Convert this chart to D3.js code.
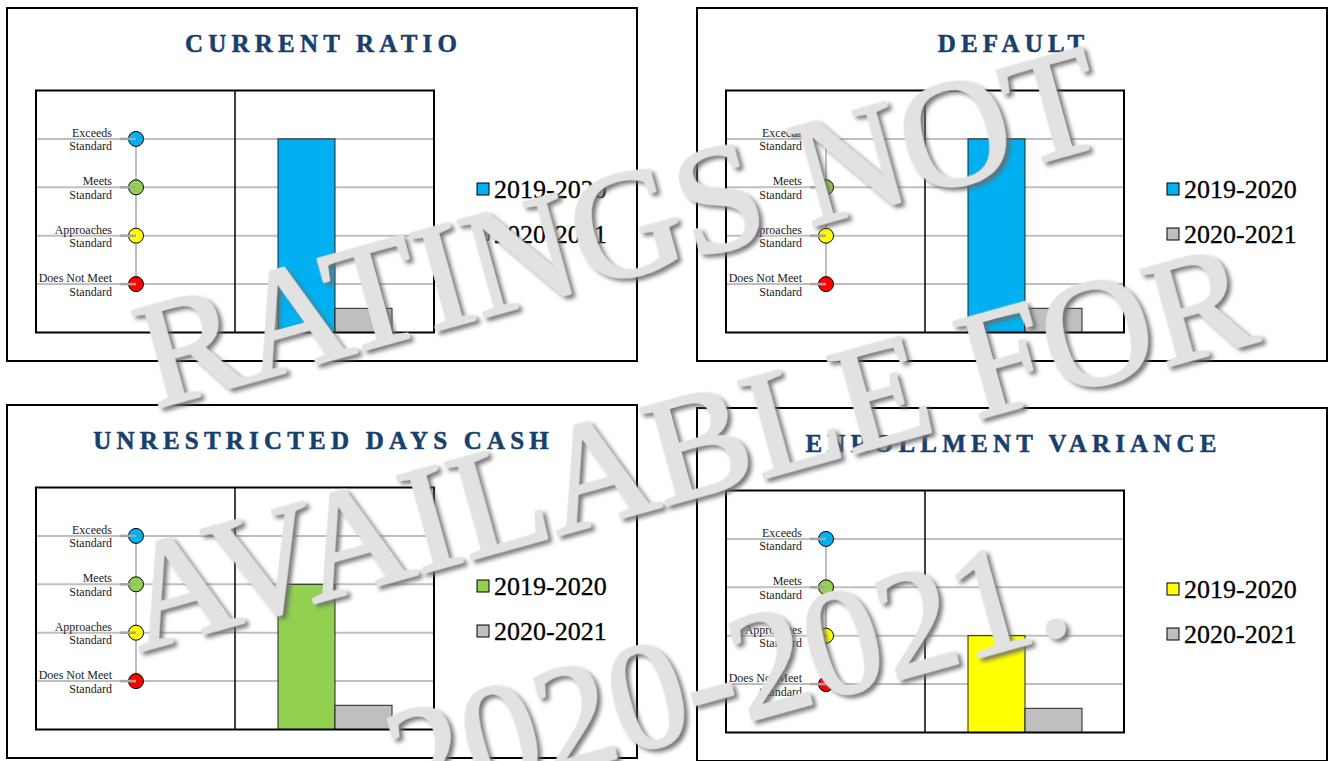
<!DOCTYPE html>
<html><head><meta charset="utf-8">
<script src="https://cdn.jsdelivr.net/npm/d3@7"></script>
<style>body{margin:0;background:#fff;overflow:hidden}</style>
</head><body>
<svg id="c" width="1328" height="761"></svg>
<script>
// ---- data ----
const panelTitles = ["CURRENT RATIO", "DEFAULT", "UNRESTRICTED DAYS CASH", "ENROLLMENT VARIANCE"];
const seriesYears = ["2019-2020", "2020-2021"];
const values1920 = [4, 4, 3, 2];
const values2021 = [0.5, 0.5, 0.5, 0.5];
const ratingValues = [1, 2, 3, 4];
const ratingLabels = [["Does Not Meet", "Standard"], ["Approaches", "Standard"], ["Meets", "Standard"], ["Exceeds", "Standard"]];
const watermarkLines = ["RATINGS NOT", "AVAILABLE FOR", "2020-2021."];

// ---- styles/layout ----
const ratingColors = ["#ff0000", "#ffff00", "#92d050", "#00b0f0"];
const grayColor = "#bfbfbf";
const titleColor = "#17406d";
const boxes = [{x:7,y:8},{x:697,y:8},{x:7,y:405},{x:697,y:408}];
const boxW = 630, boxH = 353;
const innerDX = 29, innerDY = 82.5, innerW = 398, innerH = 242;

const svg = d3.select("#c");
const serif = "'Liberation Serif', 'Times New Roman', serif";

const y = d3.scaleLinear().domain([0, 5]).range([innerH, 0]);

panelTitles.forEach((title, i) => {
  const b = boxes[i];
  const g = svg.append("g").attr("transform", `translate(${b.x},${b.y})`);
  g.append("rect").attr("x", 0).attr("y", 0).attr("width", boxW).attr("height", boxH)
    .attr("fill", "#fff").attr("stroke", "#000").attr("stroke-width", 2);
  const ls = 5.2;
  g.append("text").attr("x", boxW / 2 - 1 + ls / 2).attr("y", 44)
    .attr("text-anchor", "middle").attr("font-family", serif).attr("font-weight", "bold")
    .attr("font-size", 25).attr("letter-spacing", ls).attr("fill", titleColor)
    .attr("stroke", titleColor).attr("stroke-width", 0.5).text(title);

  const p = g.append("g").attr("transform", `translate(${innerDX},${innerDY})`);
  const half = innerW / 2;
  // gridlines
  p.selectAll("line.grid").data(ratingValues).join("line").attr("class", "grid")
    .attr("x1", 0).attr("x2", innerW).attr("y1", d => y(d)).attr("y2", d => y(d))
    .attr("stroke", grayColor).attr("stroke-width", 2);
  // connector
  const cx = 100;
  p.append("line").attr("x1", cx).attr("x2", cx)
    .attr("y1", y(d3.max(ratingValues))).attr("y2", y(d3.min(ratingValues)))
    .attr("stroke", grayColor).attr("stroke-width", 2);
  // circles
  p.selectAll("circle.r").data(ratingValues).join("circle").attr("class", "r")
    .attr("cx", cx).attr("cy", d => y(d)).attr("r", 7.5)
    .attr("fill", (d, k) => ratingColors[k]).attr("stroke", "#000").attr("stroke-width", 1);
  // ticks
  p.selectAll("line.tk").data(ratingValues).join("line").attr("class", "tk")
    .attr("x1", 84).attr("x2", cx).attr("y1", d => y(d)).attr("y2", d => y(d))
    .attr("stroke", "#a6a6a6").attr("stroke-width", 2.5);
  // labels
  const lab = p.selectAll("text.lab").data(ratingValues).join("text").attr("class", "lab")
    .attr("text-anchor", "end").attr("font-family", serif).attr("font-size", 12).attr("fill", "#222");
  lab.each(function (d, k) {
    const t = d3.select(this);
    t.append("tspan").attr("x", 76).attr("y", y(d) - 2).text(ratingLabels[k][0]);
    t.append("tspan").attr("x", 76).attr("y", y(d) + 11.5).text(ratingLabels[k][1]);
  });
  // bars
  const x = d3.scaleBand().domain(seriesYears).range([half + 43, half + 157]).paddingInner(0);
  const vals = [values1920[i], values2021[i]];
  const c1 = ratingColors[ratingValues.indexOf(Math.round(values1920[i]))];
  const fills = [c1, grayColor];
  p.selectAll("rect.bar").data(seriesYears).join("rect").attr("class", "bar")
    .attr("x", d => x(d)).attr("width", x.bandwidth())
    .attr("y", (d, k) => y(vals[k])).attr("height", (d, k) => y(0) - y(vals[k]))
    .attr("fill", (d, k) => fills[k]).attr("stroke", "#222").attr("stroke-width", 1);
  // borders
  p.append("rect").attr("width", innerW).attr("height", innerH)
    .attr("fill", "none").attr("stroke", "#000").attr("stroke-width", 2);
  p.append("line").attr("x1", half).attr("x2", half).attr("y1", 0).attr("y2", innerH)
    .attr("stroke", "#000").attr("stroke-width", 1.5);
  // legend
  const lg = g.selectAll("g.lg").data(seriesYears).join("g").attr("class", "lg")
    .attr("transform", (d, k) => `translate(470,${181 + k * 45})`);
  lg.append("rect").attr("x", 0).attr("y", -6).attr("width", 12).attr("height", 12)
    .attr("fill", (d, k) => fills[k]).attr("stroke", "#000").attr("stroke-width", 1);
  lg.append("text").attr("x", 17).attr("y", 8.5).attr("font-family", serif)
    .attr("font-size", 26).attr("fill", "#000").attr("stroke", "#000").attr("stroke-width", 0.3).text(d => d);
});

// watermark
const defs = svg.append("defs");
const f = defs.append("filter").attr("id", "sh").attr("x", "-10%").attr("y", "-10%").attr("width", "130%").attr("height", "130%");
f.append("feDropShadow").attr("dx", 3).attr("dy", 4).attr("stdDeviation", 2.2)
  .attr("flood-color", "#6a6a6a").attr("flood-opacity", 0.9);
const wm = svg.append("g").attr("transform", "translate(700,496) rotate(-15.5)");
const wmShift = [-6, 0, -22];
wm.selectAll("text").data(watermarkLines).join("text")
  .attr("x", (d, k) => wmShift[k]).attr("y", (d, k) => (k - 1) * 230)
  .attr("text-anchor", "middle").attr("font-family", serif).attr("font-size", 152)
  .attr("fill", "#e2e2e2").attr("stroke", "#e2e2e2").attr("stroke-width", 2.5)
  .attr("stroke-linejoin", "round").attr("filter", "url(#sh)").text(d => d);
</script>
</body></html>
